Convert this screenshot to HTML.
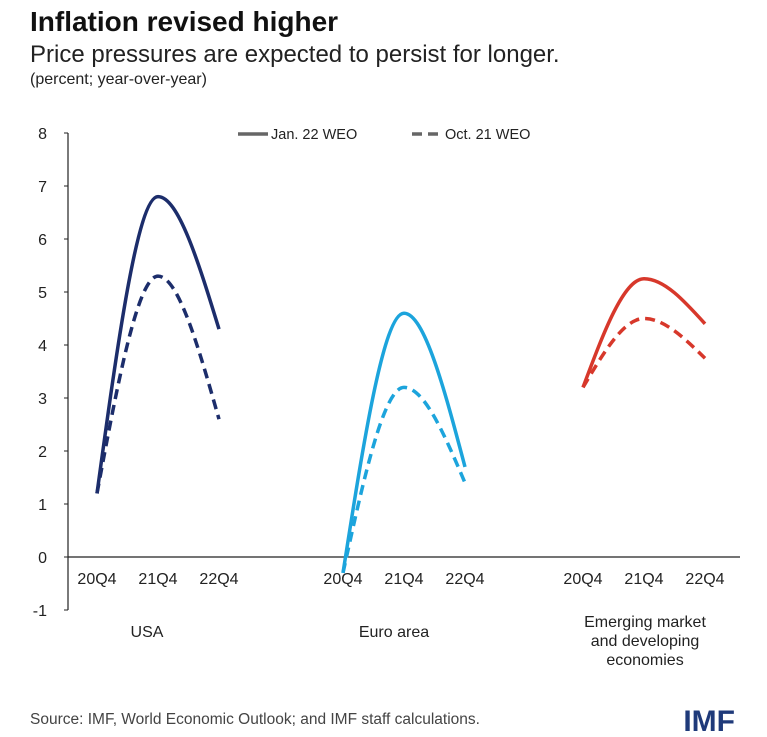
<!DOCTYPE html>
<html><head><meta charset="utf-8">
<style>
body{margin:0;background:#fff;font-family:"Liberation Sans",sans-serif;}
svg{display:block}
</style></head><body>
<svg width="767" height="737" viewBox="0 0 767 737">
<text x="30" y="31" font-size="28" font-weight="bold" fill="#111">Inflation revised higher</text>
<text x="30" y="62" font-size="24" fill="#222">Price pressures are expected to persist for longer.</text>
<text x="30" y="84" font-size="16" fill="#222">(percent; year-over-year)</text>
<g id="axes"></g>
<g id="series"></g>
<g>
<line x1="238" y1="134" x2="268" y2="134" stroke="#666" stroke-width="3.5"/>
<text x="271" y="139" font-size="14.5" fill="#222">Jan. 22 WEO</text>
<line x1="412" y1="134" x2="442" y2="134" stroke="#666" stroke-width="3.5" stroke-dasharray="10,6"/>
<text x="445" y="139" font-size="14.5" fill="#222">Oct. 21 WEO</text>
</g>
<text x="147" y="637" font-size="16" text-anchor="middle" fill="#222">USA</text>
<text x="394" y="637" font-size="16" text-anchor="middle" fill="#222">Euro area</text>
<text x="645" y="627" font-size="16" text-anchor="middle" fill="#222"><tspan x="645">Emerging market</tspan><tspan x="645" dy="19">and developing</tspan><tspan x="645" dy="19">economies</tspan></text>
<text x="30" y="724" font-size="15.5" fill="#444">Source: IMF, World Economic Outlook; and IMF staff calculations.</text>
<text x="735" y="731" font-size="30" font-weight="bold" text-anchor="end" fill="#1f3a7a">IMF</text>
</svg>
<script>
const yTicks=[8,7,6,5,4,3,2,1,0,-1];
const periods=["20Q4","21Q4","22Q4"];
const groups=["USA","Euro area","EMDE"];
const jan22=[[1.2,6.8,4.3],[-0.3,4.6,1.7],[3.2,5.25,4.4]];
const oct21=[[1.2,5.3,2.6],[-0.3,3.2,1.4],[3.2,4.5,3.75]];
const colors=["#1c2d6b","#1ca4dc","#d7382b"];
const NS="http://www.w3.org/2000/svg";
function y(v){return 557-v*53;}
const groupX0=[97,343,583], step=61;
function x(g,i){return groupX0[g]+i*step;}
const axes=document.getElementById('axes');
function el(t,a,p){const e=document.createElementNS(NS,t);for(const k in a)e.setAttribute(k,a[k]);p.appendChild(e);return e;}
const yl=el('line',{x1:68,y1:y(8),x2:68,y2:y(-1),stroke:'#222','stroke-width':1.2},axes);


const xl=el('line',{x1:68,y1:y(0),x2:740,y2:y(0),stroke:'#222','stroke-width':1.2},axes);


yTicks.forEach(v=>{
 el('line',{x1:64,y1:y(v),x2:68,y2:y(v),stroke:'#222'},axes);
 const t=el('text',{x:47,y:y(v)+6,'font-size':16,'text-anchor':'end',fill:'#222'},axes);
 t.textContent=v;
 
 
});
groups.forEach((g,gi)=>periods.forEach((p,i)=>{
 const t=el('text',{x:x(gi,i),y:584,'font-size':16,'text-anchor':'middle',fill:'#222'},axes);
 t.textContent=p;
 
 
}));
function pathFor(g,vals){
 const P=vals.map((v,i)=>[x(g,i),y(v)]);
 let d='M'+P[0][0]+','+P[0][1];
 for(let k=0;k<2;k++){
  const a=P[k],b=P[k+1],dx=b[0]-a[0];
  const sec=(b[1]-a[1])/dx;
  const m0=k==0?1.5*sec:0, m1=k==0?0:1.5*sec;
  d+=' C'+(a[0]+dx/3)+','+(a[1]+m0*dx/3)+' '+(b[0]-dx/3)+','+(b[1]-m1*dx/3)+' '+b[0]+','+b[1];
 }
 return d;
}
const S=document.getElementById('series');
groups.forEach((g,gi)=>{
 const l1=el('path',{d:pathFor(gi,jan22[gi]),fill:'none',stroke:colors[gi],'stroke-width':3.5},S);
 
 
 const l2=el('path',{d:pathFor(gi,oct21[gi]),fill:'none',stroke:colors[gi],'stroke-width':3.5,'stroke-dasharray':'10,6'},S);
 
 
});
</script>
</body></html>
